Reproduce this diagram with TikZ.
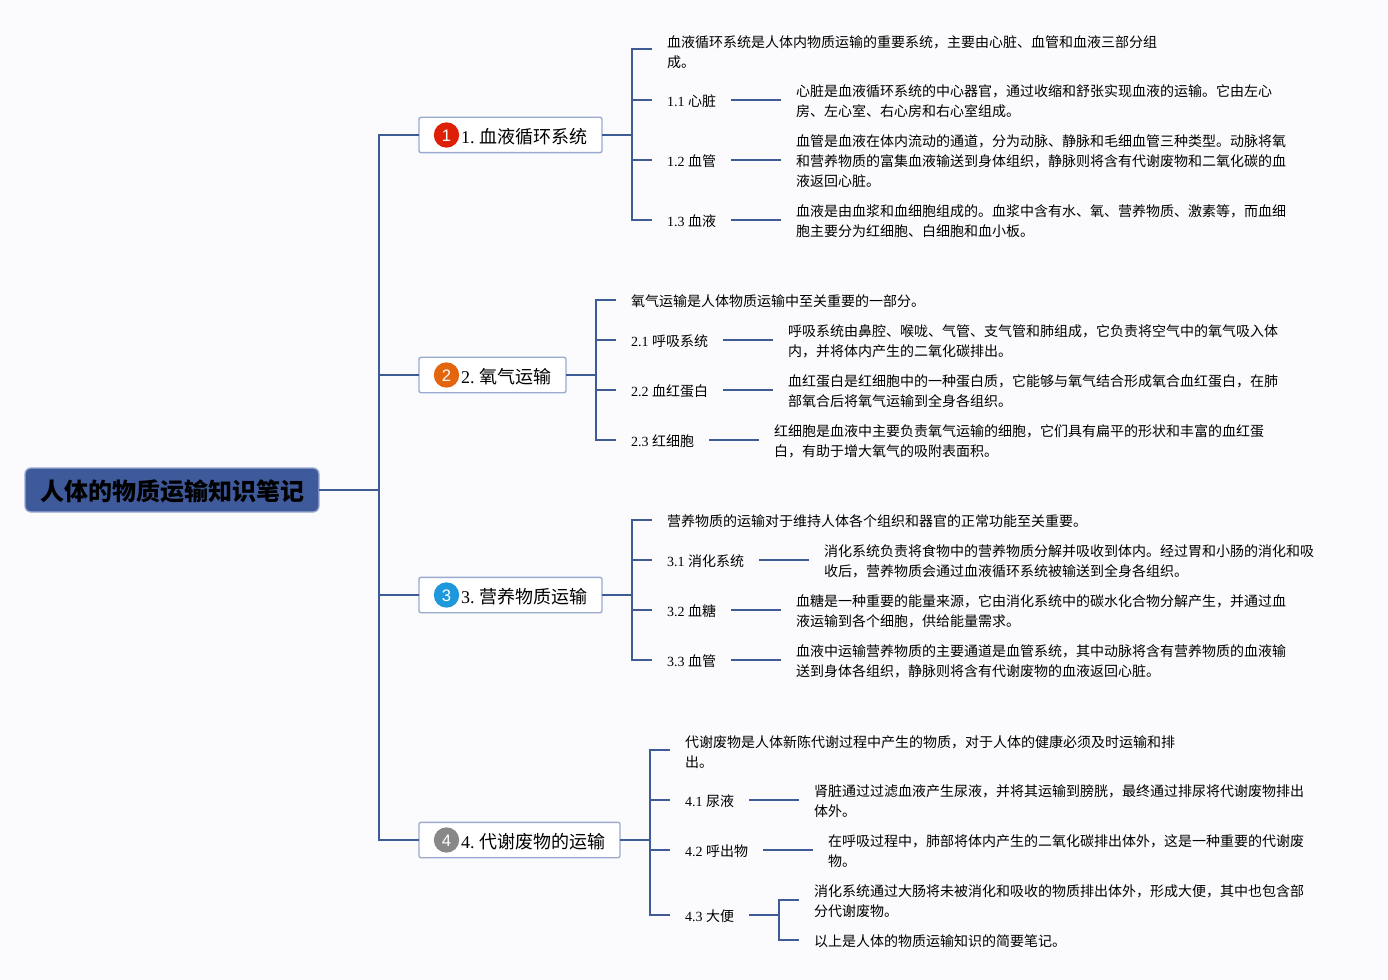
\documentclass[tikz,border=0pt]{standalone}
\usepackage{xcolor}
\usepackage{fontspec}
\setmainfont{Liberation Serif}
\newfontfamily\cjk{Noto Sans CJK SC}
\newfontfamily\badgefont{Liberation Sans}
\usetikzlibrary{positioning,calc}

\definecolor{paper}{HTML}{FBFBFD}
\definecolor{linkblue}{HTML}{3F5B96}
\definecolor{rootblue}{HTML}{3F5A9B}
\definecolor{edgeblue}{HTML}{9AA9CF}
\definecolor{badgeone}{HTML}{DF2008}
\definecolor{badgetwo}{HTML}{E3650E}
\definecolor{badgethree}{HTML}{1F97DB}
\definecolor{badgefour}{HTML}{888888}

\tikzset{
    branch/.style={draw=linkblue,line width=1.5pt},
    rootbox/.style={draw=edgeblue,line width=1pt,fill=rootblue,rounded corners=4.5pt,anchor=west,outer sep=0pt,
        minimum width=220.5pt,minimum height=33pt,inner sep=0pt,text height=20pt,text depth=4.1pt,
        font=\cjk\bfseries\fontsize{18}{22}\selectfont},
    topicbox/.style={draw=edgeblue,line width=1pt,fill=white,rounded corners=1.5pt,anchor=west,outer sep=0pt,
        minimum height=26.5pt,inner ysep=0pt,inner xsep=11.25pt,text height=14pt,text depth=1.6pt,
        font=\frenchspacing\fontsize{13.5}{16}\selectfont},
    badge/.style={circle,fill=#1,text=white,inner sep=0pt,minimum size=19pt,outer sep=0pt,
        text height=9.4pt,text depth=0pt,font=\badgefont\fontsize{12.5}{14}\selectfont},
    leaf/.style={anchor=west,align=left,inner xsep=11.25pt,inner ysep=0pt,outer sep=0pt,font=\fontsize{10.5}{15}\selectfont},
}
\newcommand{\padtopic}{\hspace{20.25pt}}

\begin{document}
\begin{tikzpicture}[x=0.75pt,y=-0.75pt]
    \fill[paper] (0,0) rectangle (1388,980);
    \useasboundingbox (0,0) rectangle (1388,980);

    % Root
    \node[rootbox] (root) at (25,490) {人体的物质运输知识笔记};

    % Topics
    \node[topicbox] (t1) at (419,135) {\padtopic 1. {\cjk 血液循环系统}};
    \node[topicbox] (t2) at (419,375) {\padtopic 2. {\cjk 氧气运输}};
    \node[topicbox] (t3) at (419,595) {\padtopic 3. {\cjk 营养物质运输}};
    \node[topicbox] (t4) at (419,840) {\padtopic 4. {\cjk 代谢废物的运输}};
    \node[badge=badgeone] (b1) at (446.5,135) {1};
    \node[badge=badgetwo] (b2) at (446.5,375) {2};
    \node[badge=badgethree] (b3) at (446.5,595) {3};
    \node[badge=badgefour] (b4) at (446.5,840) {4};

    % Section 1
    \node[leaf] (a0) at (652,52) {\cjk 血液循环系统是人体内物质运输的重要系统，主要由心脏、血管和血液三部分组\\\cjk 成。};
    \node[leaf] (a1) at (652,101.6) {1.1 {\cjk 心脏}};
    \node[leaf] (a2) at (652,161.6) {1.2 {\cjk 血管}};
    \node[leaf] (a3) at (652,221.6) {1.3 {\cjk 血液}};
    \node[leaf,right=37.5pt of a1] (a1x) {\cjk 心脏是血液循环系统的中心器官，通过收缩和舒张实现血液的运输。它由左心\\\cjk 房、左心室、右心房和右心室组成。};
    \node[leaf,right=37.5pt of a2] (a2x) {\cjk 血管是血液在体内流动的通道，分为动脉、静脉和毛细血管三种类型。动脉将氧\\\cjk 和营养物质的富集血液输送到身体组织，静脉则将含有代谢废物和二氧化碳的血\\\cjk 液返回心脏。};
    \node[leaf,right=37.5pt of a3] (a3x) {\cjk 血液是由血浆和血细胞组成的。血浆中含有水、氧、营养物质、激素等，而血细\\\cjk 胞主要分为红细胞、白细胞和血小板。};

    % Section 2
    \node[leaf] (c0) at (616,301.6) {\cjk 氧气运输是人体物质运输中至关重要的一部分。};
    \node[leaf] (c1) at (616,341.6) {2.1 {\cjk 呼吸系统}};
    \node[leaf] (c2) at (616,391.6) {2.2 {\cjk 血红蛋白}};
    \node[leaf] (c3) at (616,441.6) {2.3 {\cjk 红细胞}};
    \node[leaf,right=37.5pt of c1] (c1x) {\cjk 呼吸系统由鼻腔、喉咙、气管、支气管和肺组成，它负责将空气中的氧气吸入体\\\cjk 内，并将体内产生的二氧化碳排出。};
    \node[leaf,right=37.5pt of c2] (c2x) {\cjk 血红蛋白是红细胞中的一种蛋白质，它能够与氧气结合形成氧合血红蛋白，在肺\\\cjk 部氧合后将氧气运输到全身各组织。};
    \node[leaf,right=37.5pt of c3] (c3x) {\cjk 红细胞是血液中主要负责氧气运输的细胞，它们具有扁平的形状和丰富的血红蛋\\\cjk 白，有助于增大氧气的吸附表面积。};

    % Section 3
    \node[leaf] (e0) at (652,521.6) {\cjk 营养物质的运输对于维持人体各个组织和器官的正常功能至关重要。};
    \node[leaf] (e1) at (652,561.6) {3.1 {\cjk 消化系统}};
    \node[leaf] (e2) at (652,611.6) {3.2 {\cjk 血糖}};
    \node[leaf] (e3) at (652,661.6) {3.3 {\cjk 血管}};
    \node[leaf,right=37.5pt of e1] (e1x) {\cjk 消化系统负责将食物中的营养物质分解并吸收到体内。经过胃和小肠的消化和吸\\\cjk 收后，营养物质会通过血液循环系统被输送到全身各组织。};
    \node[leaf,right=37.5pt of e2] (e2x) {\cjk 血糖是一种重要的能量来源，它由消化系统中的碳水化合物分解产生，并通过血\\\cjk 液运输到各个细胞，供给能量需求。};
    \node[leaf,right=37.5pt of e3] (e3x) {\cjk 血液中运输营养物质的主要通道是血管系统，其中动脉将含有营养物质的血液输\\\cjk 送到身体各组织，静脉则将含有代谢废物的血液返回心脏。};

    % Section 4
    \node[leaf] (g0) at (670,751.6) {\cjk 代谢废物是人体新陈代谢过程中产生的物质，对于人体的健康必须及时运输和排\\\cjk 出。};
    \node[leaf] (g1) at (670,801.6) {4.1 {\cjk 尿液}};
    \node[leaf] (g2) at (670,851.6) {4.2 {\cjk 呼出物}};
    \node[leaf] (g3) at (670,916.6) {4.3 {\cjk 大便}};
    \node[leaf,right=37.5pt of g1] (g1x) {\cjk 肾脏通过过滤血液产生尿液，并将其运输到膀胱，最终通过排尿将代谢废物排出\\\cjk 体外。};
    \node[leaf,right=37.5pt of g2] (g2x) {\cjk 在呼吸过程中，肺部将体内产生的二氧化碳排出体外，这是一种重要的代谢废\\\cjk 物。};
    \node[leaf] (g3x) at (799,901.6) {\cjk 消化系统通过大肠将未被消化和吸收的物质排出体外，形成大便，其中也包含部\\\cjk 分代谢废物。};
    \node[leaf] (g3y) at (799,941.6) {\cjk 以上是人体的物质运输知识的简要笔记。};

    % Links
    \foreach \topic in {t1,t2,t3,t4}
        \draw[branch] (root.east) -- ++(60,0) |- (\topic.west);
    \draw[branch] (t1.east) -- ++(30,0) |- ([yshift=2pt]a0.west);
    \foreach \kid in {a1,a2,a3}
        \draw[branch] (t1.east) -- ++(30,0) |- ([yshift=1.2pt]\kid.west);
    \foreach \kid in {c0,c1,c2,c3}
        \draw[branch] (t2.east) -- ++(30,0) |- ([yshift=1.2pt]\kid.west);
    \foreach \kid in {e0,e1,e2,e3}
        \draw[branch] (t3.east) -- ++(30,0) |- ([yshift=1.2pt]\kid.west);
    \foreach \kid in {g0,g1,g2,g3}
        \draw[branch] (t4.east) -- ++(30,0) |- ([yshift=1.2pt]\kid.west);
    \foreach \kid in {a1,a2,a3,c1,c2,c3,e1,e2,e3,g1,g2}
        \draw[branch] ([yshift=1.2pt]\kid.east) -- ([yshift=1.2pt]\kid x.west);
    \foreach \kid in {g3x,g3y}
        \draw[branch] ([yshift=1.2pt]g3.east) -- ++(30,0) |- ([yshift=1.2pt]\kid.west);
\end{tikzpicture}
\end{document}
